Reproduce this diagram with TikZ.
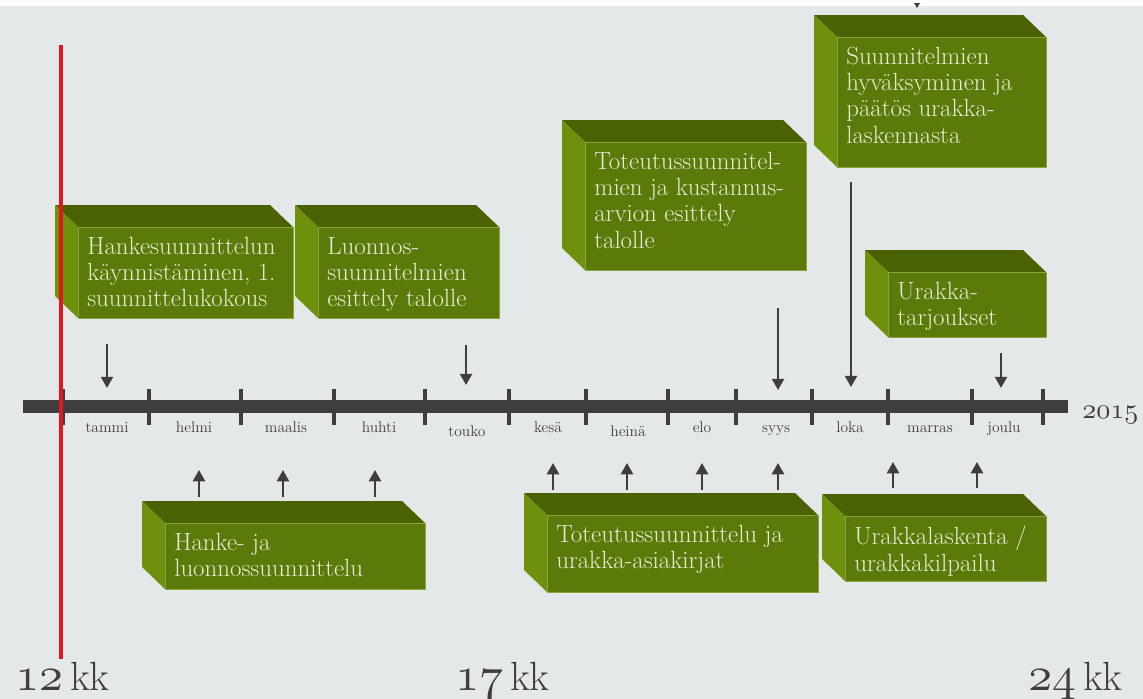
\documentclass[tikz,border=0pt]{standalone}
\usepackage{fontspec}
\usetikzlibrary{arrows.meta}

\DeclareFontFamily{OML}{vanha}{\skewchar\font127 }
\DeclareFontShape{OML}{vanha}{m}{it}{<-> cmmi10}{}

\definecolor{etu}{HTML}{5C7A0A}
\definecolor{kansi}{HTML}{4A6204}
\definecolor{sivu}{HTML}{6F900C}
\definecolor{reuna}{HTML}{88A53C}
\definecolor{teksti}{HTML}{E6ECD2}
\definecolor{akseli}{HTML}{3E3E41}
\definecolor{punainen}{HTML}{E3161B}
\definecolor{taustareuna}{HTML}{E5E8E8}
\definecolor{taustakeski}{HTML}{F1F2F2}

\newcommand{\vanhat}[1]{{\usefont{OML}{vanha}{m}{it}#1}}
\newcommand{\kuukaudet}[1]{{\fontsize{34}{36}\selectfont\vanhat{#1}}\hspace{5pt}kk}

\tikzset{
    laatikkoteksti/.style={anchor=north west, inner sep=0pt, align=left, text=teksti,
        font=\fontsize{17.7}{18.6}\selectfont},
    kuukausi/.style={anchor=base, text=akseli, font=\fontsize{11}{13}\selectfont},
    nuoli/.style={draw=akseli, line width=1.8pt, -{Triangle[width=8.5pt,length=8pt]}},
    kk/.style={anchor=base west, inner sep=0pt, text=akseli, font=\fontsize{29}{36}\selectfont},
}

\newcommand{\laatikko}[6]{%
    \fill[kansi] (#2,#3) -- ++(-23,-22) -- ({#4-23},{#3-22}) -- (#4,#3) -- cycle;
    \fill[sivu] (#2,#3) -- ++(-23,-22) -- ({#2-23},{#5-22}) -- (#2,#5) -- cycle;
    \fill[etu, draw=reuna, line width=0.5pt] (#2,#3) rectangle (#4,#5);
    \node[laatikkoteksti] (#1) at ({#2+9},{#3+10}) {#6};
}

\begin{document}
\begin{tikzpicture}[x=0.025cm, y=-0.025cm]
    \useasboundingbox (0,0) rectangle (1143,698);
    \shade[left color=taustareuna, middle color=taustakeski, right color=taustareuna] (0,6) rectangle (1143,698);
    \fill[white] (0,0) rectangle (1143,6);
    \fill[akseli] (914,3)--(920,3)--(917,8)--cycle;

    \laatikko{hanke}{78}{227}{293}{318}{Hankesuunnittelun\\käynnistäminen, 1.\\suunnittelukokous}
    \laatikko{luonnos}{318}{227}{499}{318}{Luonnos-\\suunnitelmien\\esittely talolle}
    \laatikko{esittely}{585}{142}{806}{270}{Toteutussuunnitel-\\mien ja kustannus-\\arvion esittely\\talolle}
    \laatikko{hyvaksyminen}{837}{37}{1046}{167}{Suunnitelmien\\hyväksyminen ja\\päätös urakka-\\laskennasta}
    \laatikko{tarjoukset}{888}{272}{1046}{337}{Urakka-\\tarjoukset}
    \laatikko{luonnossuunnittelu}{165}{523}{425}{589}{Hanke- ja\\luonnossuunnittelu}
    \laatikko{asiakirjat}{547}{515}{818}{592}{Toteutussuunnittelu ja\\urakka-asiakirjat}
    \laatikko{kilpailu}{845}{516}{1046}{581}{Urakkalaskenta /\\urakkakilpailu}

    \fill[akseli] (23,400) rectangle (1068,413);
    \foreach \x in {63,149,241,334,425,509,586,668,736,812,888,972,1043}
        \draw[akseli, line width=2.2pt] (\x,389) -- (\x,425);
    \foreach \x/\y/\kk in {107/432/tammi, 194/432/helmi, 286/432/maalis, 379/432/huhti,
        467/436/touko, 548/432/kesä, 628/436/heinä, 702/432/elo, 776/432/syys,
        850/432/loka, 930/432/marras, 1004/432/joulu}
        \node[kuukausi] (\kk) at (\x,\y) {\kk};
    \node[anchor=base west, inner sep=0pt, text=akseli, font=\fontsize{20}{22}\selectfont]
        (vuosi) at (1082,418) {\vanhat{2015}};

    \draw[nuoli] (107,344) -- (107,388);
    \draw[nuoli] (466,345) -- (466,385);
    \draw[nuoli] (778,308) -- (778,390);
    \draw[nuoli] (851,182) -- (851,387);
    \draw[nuoli] (1001,353) -- (1001,388);

    \foreach \x in {199,283,375}
        \draw[nuoli] (\x,497) -- (\x,470);
    \foreach \x in {553,627,702,778}
        \draw[nuoli] (\x,490) -- (\x,463);
    \foreach \x in {893,977}
        \draw[nuoli] (\x,488) -- (\x,462);

    \draw[punainen, line width=2.6pt] (61,45) -- (61,659);

    \node[kk] (kk12) at (15,690) {\kuukaudet{12}};
    \node[kk] (kk17) at (455,690) {\kuukaudet{17}};
    \node[kk] (kk24) at (1028,690) {\kuukaudet{24}};
\end{tikzpicture}
\end{document}
